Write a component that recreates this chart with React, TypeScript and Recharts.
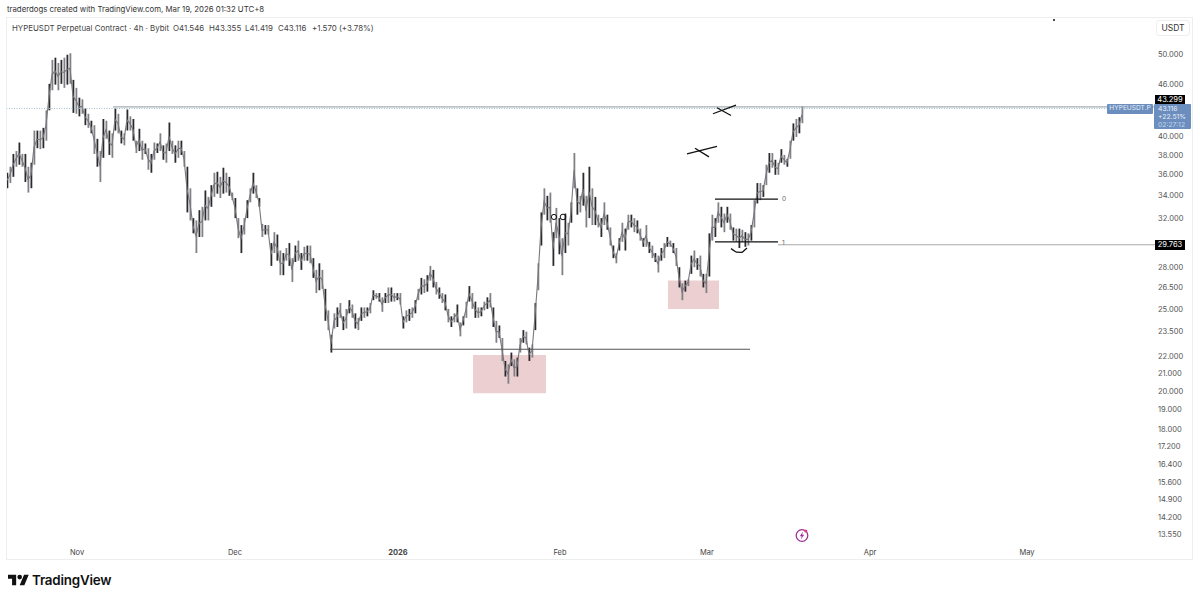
import React from "react";
import { ComposedChart, Bar, Line, Cell, XAxis, YAxis, ReferenceLine, ReferenceArea, ReferenceDot } from "recharts";

const FONT = "Inter, 'Open Sans', sans-serif";

const highs = [
  36.2,36.8,38.1,38.4,39.3,38.1,38.1,36.8,37.2,40.6,40.6,40.6,40.9,42.9,46.1,49.2,49.5,48.8,49.2,49.5,49.9,50.1,46.6,45.6,44.4,44.2,43.1,42.5,41.7,41.2,39.7,38.4,41.9,41.7,40.6,40.3,43.1,42.5,40.6,40.3,43.0,42.2,41.9,39.5,40.8,
  39.5,39.2,38.7,38.1,39.3,39.2,40.3,39.0,39.2,41.5,39.5,39.0,39.5,39.5,38.4,36.8,34.7,32.0,31.8,32.7,33.0,34.5,33.9,35.0,36.2,36.3,35.8,36.7,36.2,35.8,34.3,33.8,32.0,31.4,32.0,33.6,34.7,36.2,35.0,33.8,31.5,31.4,31.4,
  29.9,30.8,30.6,29.3,29.1,29.5,29.9,28.7,29.7,30.1,29.1,29.6,29.7,29.7,28.7,27.8,28.3,27.8,26.4,24.9,23.3,24.7,25.1,25.4,24.5,25.0,25.6,25.3,24.7,24.4,25.1,25.1,25.1,25.4,26.3,26.1,26.1,25.8,26.1,26.5,26.5,26.1,26.1,
  26.1,24.5,24.9,25.0,25.1,25.6,26.4,27.2,27.1,27.4,28.1,27.8,26.9,26.5,26.1,26.0,25.0,24.5,24.7,25.3,24.1,24.5,25.5,26.6,26.1,25.5,25.1,25.1,25.5,25.8,26.1,25.1,24.2,23.9,23.1,21.7,21.5,22.2,21.8,21.9,23.1,23.6,23.5,22.5,22.7,
  25.4,28.3,32.5,34.7,34.0,34.3,30.8,32.9,32.0,30.3,32.4,31.6,33.4,38.2,34.7,34.0,36.2,34.0,36.8,34.7,33.9,32.3,32.0,33.4,32.3,31.2,29.7,29.1,30.3,31.6,31.1,32.3,32.3,32.0,31.8,31.1,30.3,31.4,30.0,29.7,29.1,28.9,29.5,29.9,
  30.4,30.1,29.9,29.5,28.0,26.8,27.0,27.1,28.9,29.3,28.7,28.9,27.5,27.5,30.7,32.3,32.0,33.4,33.0,32.4,33.0,32.4,31.2,31.1,31.1,31.0,30.8,30.7,31.4,33.6,35.2,
  35.2,35.0,37.0,38.2,38.2,37.5,37.2,38.6,38.0,37.6,39.5,41.4,41.9,42.1,43.355,
];
const lows = [
  34.7,35.2,35.8,36.8,37.0,36.8,35.3,34.3,34.7,37.0,38.7,38.6,38.7,39.5,42.9,45.3,46.0,45.3,46.1,45.6,46.0,46.1,42.6,42.5,42.2,42.5,41.2,40.9,40.3,38.1,36.8,35.3,37.7,39.7,38.0,37.7,40.6,40.3,39.2,39.0,40.6,40.6,39.5,38.2,38.4,
  37.5,38.1,36.5,36.2,37.5,38.2,38.4,37.5,37.2,38.4,38.1,37.2,37.7,38.0,36.8,32.5,31.8,30.7,29.1,30.4,30.4,31.8,31.8,33.0,33.9,34.2,33.8,34.2,34.3,34.0,33.6,32.0,30.3,29.1,30.6,32.0,33.4,34.2,33.8,33.0,30.4,30.6,30.6,
  28.1,29.1,28.5,27.4,27.4,28.5,28.1,26.9,28.4,28.5,27.8,28.5,28.5,28.3,27.2,26.1,26.3,26.4,24.2,23.6,22.2,23.7,23.8,24.4,23.6,23.7,24.7,24.4,23.7,23.6,24.2,24.4,24.5,24.7,25.6,25.7,25.5,24.8,25.4,25.4,25.5,25.5,25.6,
  25.3,23.7,24.1,24.2,24.4,24.7,25.6,26.0,26.1,26.2,27.0,26.5,26.0,25.7,25.4,24.9,24.1,23.8,24.1,24.1,23.2,23.9,24.4,25.5,25.0,24.4,24.4,24.5,24.9,25.0,25.1,23.8,22.8,23.1,21.7,20.8,20.4,21.4,20.8,20.8,22.2,22.8,22.7,21.7,21.9,
  23.6,26.3,29.7,32.3,31.8,31.6,28.1,30.3,29.0,27.4,29.1,29.7,31.6,34.7,32.3,32.5,33.1,31.2,32.0,31.4,31.4,31.2,30.4,31.4,31.0,29.7,28.7,28.3,29.3,30.0,29.3,31.0,31.2,30.8,30.7,30.1,29.6,29.6,29.1,28.7,28.4,27.6,28.5,28.7,
  29.6,29.6,29.1,28.1,26.5,25.6,26.2,26.6,27.5,28.0,27.8,27.3,26.5,26.1,27.3,30.1,30.4,31.6,31.2,30.8,31.6,31.0,30.1,30.0,29.5,30.0,29.6,29.7,30.1,31.2,33.3,
  33.6,33.9,35.0,36.2,36.7,36.0,36.0,37.2,37.0,36.8,37.6,39.5,39.9,40.3,41.419,
];
const rows = highs.map((h, i) => ({ i, range: [lows[i], h], mid: (lows[i] + h) / 2 }));

const priceTicks = [50, 46, 40, 38, 36, 34, 32, 28, 26.5, 25, 23.5, 22, 21, 20, 19, 18, 17.2, 16.4, 15.6, 14.9, 14.2, 13.55];
const monthLabels = ["Nov", "Dec", "2026", "Feb", "Mar", "Apr", "May"];
const monthTicks = [23.33, 76, 130.33, 184.33, 233.33, 287.67, 340];

const lastPrice = 43.116;
const topLevel = 43.299;
const supportLevel = 22.4;
const fibZero = 33.7;
const fibOne = 30;
const fibLevel = 29.763;
const zoneLow = [19.87, 22.05];
const zoneHigh = [25, 27];

const X = (px: number) => (px - 7) / 3;

const Tick = (props: any) => {
  const { x, y, payload } = props;
  const idx = monthTicks.findIndex((t) => Math.abs(t - payload.value) < 1);
  const label = monthLabels[idx];
  return (
    <text x={x} y={555} textAnchor="middle" fontFamily={FONT} fontSize={7.5} fontWeight={label === "2026" ? 700 : 400} fill="#444">
      {label}
    </text>
  );
};

const abs = (left: number, top: number, extra: React.CSSProperties = {}): React.CSSProperties => ({
  position: "absolute", left, top, fontFamily: FONT, whiteSpace: "nowrap", ...extra,
});

const ink = { stroke: "#111", strokeWidth: 1.3 };
const seg = (a: number, b: number, c: number, d: number, key: string) => (
  <ReferenceLine key={key} segment={[{ x: X(a), y: b }, { x: X(c), y: d }]} {...ink} />
);

export default function App() {
  return (
    <div style={{ position: "absolute", left: 0, top: 0, width: 1200, height: 600, background: "#fff", overflow: "hidden" }}>
      <div style={{ position: "absolute", left: 6, top: 17, width: 1187, height: 543, border: "1px solid #eeeeee", boxSizing: "border-box" }} />
      <div style={abs(0, 0)}>
        <ComposedChart width={1200} height={600} data={rows} margin={{ top: 17, right: 0, bottom: 20, left: 7 }}>
          <XAxis dataKey="i" type="number" domain={[0, 382.67]} ticks={monthTicks} tick={<Tick />} axisLine={false} tickLine={false} height={20} allowDataOverflow interval={0} />
          <YAxis orientation="right" scale="log" domain={[12.63, 55.29]} ticks={priceTicks} allowDataOverflow axisLine={false} tickLine={false} width={45} interval={0}
            tick={{ fontSize: 7.5, fontFamily: FONT, fill: "#555", textAnchor: "start", dx: -5 }}
            tickFormatter={(v: number) => v.toFixed(3)} />
          <ReferenceArea x1={X(473)} x2={X(546)} y1={zoneLow[0]} y2={zoneLow[1]} fill="#eccfd0" fillOpacity={1} stroke="none" />
          <ReferenceArea x1={X(668)} x2={X(719)} y1={zoneHigh[0]} y2={zoneHigh[1]} fill="#eccfd0" fillOpacity={1} stroke="none" />
          <Line dataKey="mid" stroke="#77777c" strokeWidth={1.1} dot={false} isAnimationActive={false} />
          <Bar dataKey="range" barSize={1.8} isAnimationActive={false}>
            {rows.map((r, i) => (
              <Cell key={i} fill={i % 2 === 0 ? "#2a2a2e" : "#808086"} />
            ))}
          </Bar>
          <ReferenceLine y={lastPrice} stroke="#9fc0cc" strokeDasharray="1 1.5" strokeWidth={1} />
          <ReferenceLine segment={[{ x: X(113), y: topLevel }, { x: X(1155), y: topLevel }]} stroke="#8f9aa0" strokeWidth={1} />
          <ReferenceLine segment={[{ x: X(330), y: supportLevel }, { x: X(750), y: supportLevel }]} stroke="#555" strokeWidth={1.1} />
          <ReferenceLine segment={[{ x: X(715), y: fibZero }, { x: X(778), y: fibZero }]} stroke="#111" strokeWidth={1.2} />
          <ReferenceLine segment={[{ x: X(715), y: fibOne }, { x: X(778), y: fibOne }]} stroke="#111" strokeWidth={1.2} />
          <ReferenceLine segment={[{ x: X(778), y: fibLevel }, { x: X(1155), y: fibLevel }]} stroke="#a8a8a8" strokeWidth={1} />
          {seg(713, 42.5, 736, 43.5, "x1a")}
          {seg(717, 43.2, 731, 42.3, "x1b")}
          {seg(687, 38.1, 717, 38.9, "x2a")}
          {seg(695, 38.7, 709, 37.8, "x2b")}
          {seg(731, 29.45, 736, 29.18, "a1")}
          {seg(736, 29.18, 742, 29.15, "a2")}
          {seg(742, 29.15, 747, 29.5, "a3")}
          <ReferenceDot x={X(554)} y={32.1} r={2.6} fill="none" stroke="#111" strokeWidth={1} />
          <ReferenceDot x={X(563)} y={32.1} r={2.8} fill="none" stroke="#111" strokeWidth={1} />
        </ComposedChart>
      </div>

      <div style={abs(7, 4, { fontSize: 7.8, color: "#333" })}>traderdogs created with TradingView.com, Mar 19, 2026 01:32 UTC+8</div>
      <div style={abs(12, 23, { fontSize: 7.9, color: "#444" })}>HYPEUSDT Perpetual Contract · 4h · Bybit</div>
      <div style={abs(173, 23, { fontSize: 7.9, color: "#444" })}>O41.546</div>
      <div style={abs(209, 23, { fontSize: 7.9, color: "#444" })}>H43.355</div>
      <div style={abs(245, 23, { fontSize: 7.9, color: "#444" })}>L41.419</div>
      <div style={abs(278, 23, { fontSize: 7.9, color: "#444" })}>C43.116</div>
      <div style={abs(312, 23, { fontSize: 7.9, color: "#444" })}>+1.570 (+3.78%)</div>

      <div style={abs(1156, 20, { width: 34, height: 16, border: "1px solid #eee", borderRadius: 3, boxSizing: "border-box", fontSize: 8.5, color: "#333", textAlign: "center", lineHeight: "15px" })}>USDT</div>

      <div style={abs(782, 195, { fontSize: 6.5, color: "#666" })}>0</div>
      <div style={abs(782, 239, { fontSize: 6.5, color: "#666" })}>1</div>

      <div style={abs(1155, 95, { width: 30, height: 10, background: "#000", color: "#fff", fontSize: 7.5, textAlign: "center", lineHeight: "10px" })}>43.299</div>
      <div style={abs(1155, 240, { width: 30, height: 10, background: "#000", color: "#fff", fontSize: 7.5, textAlign: "center", lineHeight: "10px" })}>29.763</div>
      <div style={abs(1107, 104, { width: 46, height: 9.5, background: "#6b8ebf", color: "#e8eef7", fontSize: 6.6, textAlign: "center", lineHeight: "9.5px", borderRadius: 1 })}>HYPEUSDT.P</div>
      <div style={abs(1154, 104, { width: 37, height: 25, background: "#6b8ebf", color: "#e8eef7", fontSize: 6.8, lineHeight: "8px", paddingLeft: 4, boxSizing: "border-box", paddingTop: 1, borderRadius: 1 })}>
        43.116<br />+22.51%<br /><span style={{ color: "#c5d4e8" }}>02:27:12</span>
      </div>

      <div style={abs(1053, 19, { width: 2, height: 2, background: "#111", borderRadius: 1 })} />

      <svg style={{ position: "absolute", left: 795, top: 528 }} width={14} height={15} viewBox="0 0 14 15">
        <circle cx={7} cy={7.5} r={5.8} fill="#fff" stroke="#a0309a" strokeWidth={1.3} />
        <path d="M8 3.6 4.8 8.2h2l-1 3.4 3.4-4.8H7.2z" fill="#a0309a" />
        <circle cx={10.8} cy={3} r={1.6} fill="#e0407a" />
      </svg>

      <svg style={{ position: "absolute", left: 8, top: 572 }} width={21} height={16} viewBox="0 0 36 26">
        <path d="M14 22H7V11H0V4h14v18zM28 22h-8l7.5-18h8L28 22z" fill="#111" />
        <circle cx={20} cy={8} r={4} fill="#111" />
      </svg>
      <div style={abs(32, 572, { fontSize: 13.4, fontWeight: 600, color: "#111", letterSpacing: "-0.2px" })}>TradingView</div>
    </div>
  );
}
